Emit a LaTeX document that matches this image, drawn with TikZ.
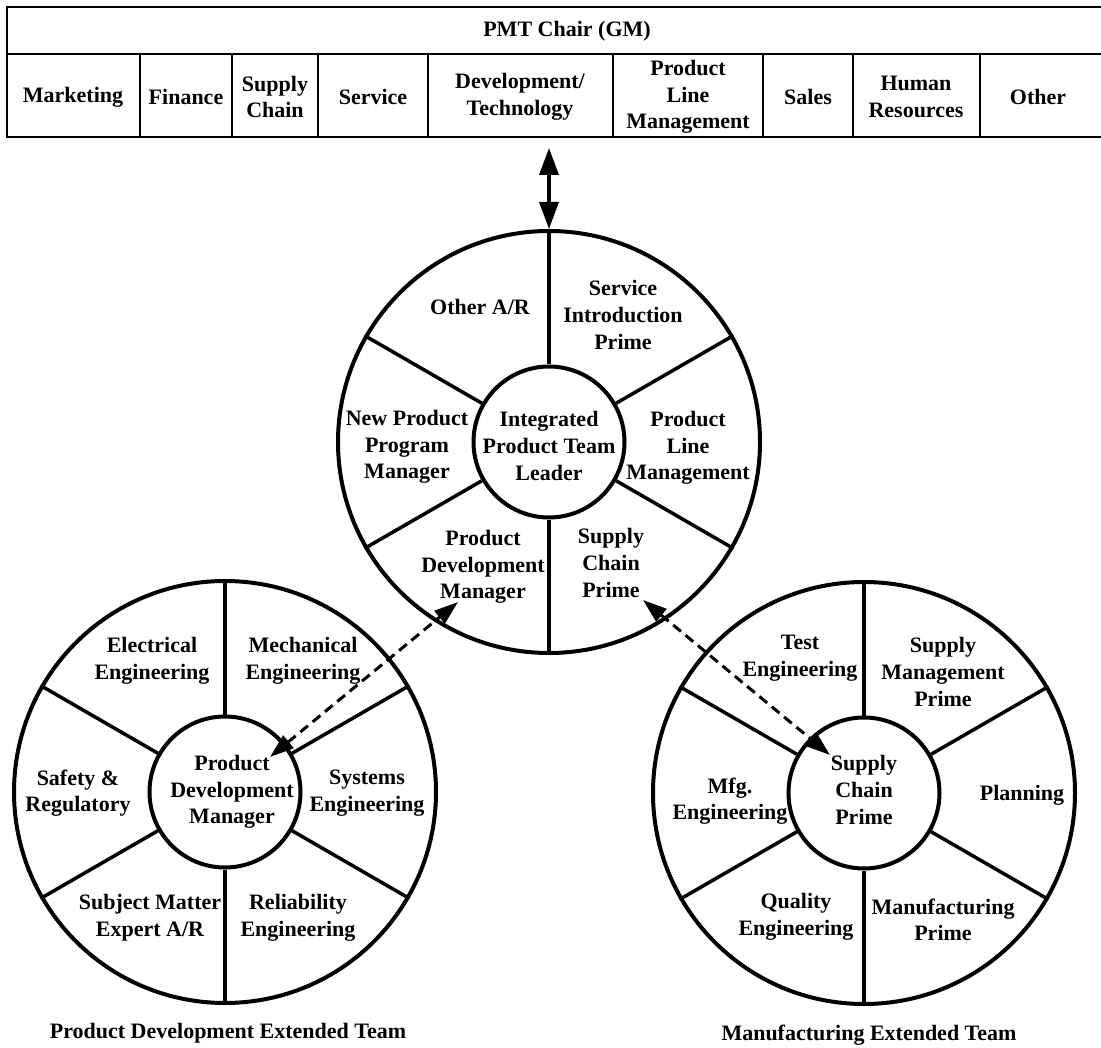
\documentclass[tikz,border=0pt]{standalone}
\usepackage{fontspec}
\setmainfont{Liberation Serif}
\usetikzlibrary{arrows.meta}
\begin{document}
\begin{tikzpicture}[x=1pt,y=-1pt,
  every node/.style={font=\bfseries\fontsize{22}{26.6}\selectfont, align=center, inner sep=0pt},
  grid/.style={line width=1.8pt},
  ring/.style={circle, draw, line width=4pt, inner sep=0pt},
  spoke/.style={line width=3.5pt},
  dbl/.style={line width=3.5pt, {Triangle[length=27pt,width=19pt]}-{Triangle[length=27pt,width=19pt]}},
  link/.style={line width=3pt, dash pattern=on 10pt off 6pt,
    {Triangle[length=24pt,width=16pt]}-{Triangle[length=24pt,width=16pt]}},
]
\useasboundingbox (0,0) rectangle (1101,1048);

% ---- PMT table (runs on past the right edge) ----
\draw[grid] (1101,7) -- (7,7) -- (7,137) -- (1101,137);
\draw[grid] (7,54) -- (1101,54);
\foreach \x in {140,232,318,428,613,763,853,980} \draw[grid] (\x,54) -- (\x,137);
\node (chair) at (567,31) {PMT Chair (GM)};
\node (mkt) at (73,97) {Marketing};
\node (fin) at (186,97) {Finance};
\node (sch) at (275,97) {Supply\\Chain};
\node (svc) at (373,97) {Service};
\node (dev) at (520,97) {Development/\\Technology};
\node (plm) at (688,97) {Product\\Line\\Management};
\node (sales) at (808,97) {Sales};
\node (hr) at (916,97) {Human\\Resources};
\node (oth) at (1038,97) {Other};

% ---- Integrated product team wheel ----
\node[ring, minimum size=422pt] (tc) at (549,442) {};
\node[ring, minimum size=151pt] (ti) at (549,442) {};
\foreach \a in {90,30,-30,-90,-150,150} \draw[spoke] (ti.\a) -- (tc.\a);
\node (tlead) at (549,446) {Integrated\\Product Team\\Leader};
\node (toth) at (480,307) {Other A/R};
\node (tsip) at (623,315) {Service\\Introduction\\Prime};
\node (tplm) at (688,448) {Product\\Line\\Management};
\node (tscp) at (611,563) {Supply\\Chain\\Prime};
\node (tpdm) at (483,567) {Product\\Development\\Manager};
\node (tnpp) at (407,447) {New Product\\Program\\Manager};

% ---- Product development extended team wheel ----
\node[ring, minimum size=422pt] (lc) at (225,792) {};
\node[ring, minimum size=151pt] (li) at (225,792) {};
\foreach \a in {90,30,-30,-90,-150,150} \draw[spoke] (li.\a) -- (lc.\a);
\node (lpdm) at (232,792) {Product\\Development\\Manager};
\node (lee) at (152,661) {Electrical\\Engineering};
\node (lme) at (303,661) {Mechanical\\Engineering};
\node (lsr) at (78,793) {Safety \&\\Regulatory};
\node (lse) at (367,793) {Systems\\Engineering};
\node (lsme) at (150,918) {Subject Matter\\Expert A/R};
\node (lre) at (298,918) {Reliability\\Engineering};
\node (lteam) at (228,1033) {Product Development Extended Team};

% ---- Manufacturing extended team wheel ----
\node[ring, minimum size=422pt] (rc) at (864,793) {};
\node[ring, minimum size=151pt] (ri) at (864,793) {};
\foreach \a in {90,30,-30,-90,-150,150} \draw[spoke] (ri.\a) -- (rc.\a);
\node (rscp) at (864,790) {Supply\\Chain\\Prime};
\node (rte) at (800,658) {Test\\Engineering};
\node (rsmp) at (943,672) {Supply\\Management\\Prime};
\node (rmfg) at (730,801) {Mfg.\\Engineering};
\node (rpln) at (1022,795) {Planning};
\node (rqe) at (796,917) {Quality\\Engineering};
\node (rmp) at (943,920) {Manufacturing\\Prime};
\node (rteam) at (869,1035) {Manufacturing Extended Team};

% ---- links ----
\coordinate (pmtlink) at (549,148);
\draw[dbl] (pmtlink) -- (tc.north);
\coordinate (pdtop) at (458,602);
\coordinate (pdhub) at (270,757);
\draw[link] (pdhub) -- (pdtop);
\coordinate (sctop) at (643,600);
\coordinate (schub) at (830,755);
\draw[link] (sctop) -- (schub);
\end{tikzpicture}
\end{document}
